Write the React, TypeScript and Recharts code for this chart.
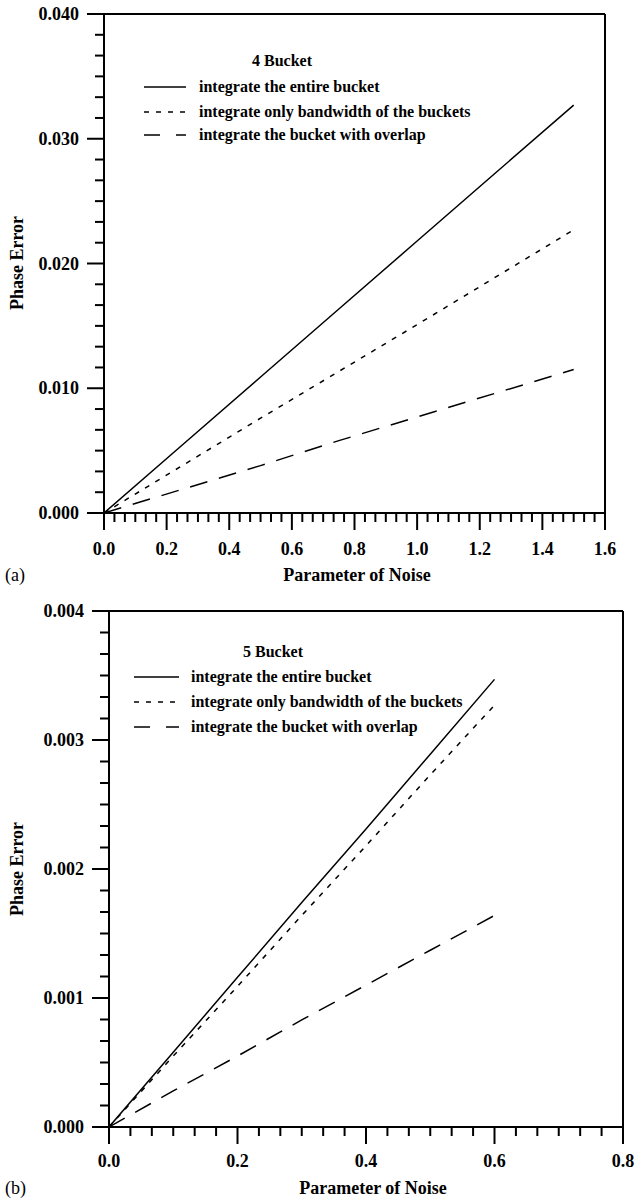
import React from 'react';
import { LineChart, Line, XAxis, YAxis, ReferenceLine, Legend } from 'recharts';

// ---------- Data ----------
// Panel (a): 4 Bucket
const noiseA = [0, 0.25, 0.5, 0.75, 1.0, 1.25, 1.5];
const entireA = [0, 0.00545, 0.0109, 0.01635, 0.0218, 0.02725, 0.0327];
const bandwidthA = [0, 0.0038, 0.0076, 0.01135, 0.0151, 0.0189, 0.0227];
const overlapA = [0, 0.0019, 0.0038, 0.0058, 0.0077, 0.0096, 0.0115];

// Panel (b): 5 Bucket
const noiseB = [0, 0.1, 0.2, 0.3, 0.4, 0.5, 0.6];
const entireB = [0, 0.00058, 0.00116, 0.00174, 0.00231, 0.00289, 0.00347];
const bandwidthB = [0, 0.00055, 0.00109, 0.00164, 0.00218, 0.00273, 0.00327];
const overlapB = [0, 0.00028, 0.00055, 0.00083, 0.0011, 0.00137, 0.00164];

// Tick labels
const xMajorA = [0, 0.2, 0.4, 0.6, 0.8, 1.0, 1.2, 1.4, 1.6];
const yMajorA = [0, 0.01, 0.02, 0.03, 0.04];
const xMajorB = [0, 0.2, 0.4, 0.6, 0.8];
const yMajorB = [0, 0.001, 0.002, 0.003, 0.004];

const seriesNames = [
  'integrate the entire bucket',
  'integrate only bandwidth of the buckets',
  'integrate the bucket with overlap',
];
const titleA = '4 Bucket';
const titleB = '5 Bucket';
const xTitle = 'Parameter of Noise';
const yTitle = 'Phase Error';

// ---------- helpers ----------
const FONT = "'Liberation Serif', 'Times New Roman', serif";
const DASHES = [undefined, '5 7', '18 12'];
const LEGEND_DASHES = [undefined, '5 7', '16 16'];

const withMinors = (majors: number[], sub: number) => {
  const out: number[] = [];
  for (let i = 0; i < majors.length - 1; i++) {
    const a = majors[i];
    const b = majors[i + 1];
    for (let k = 0; k < sub; k++) out.push(Number((a + ((b - a) * k) / sub).toFixed(8)));
  }
  out.push(majors[majors.length - 1]);
  return out;
};

const isMajor = (v: number, majors: number[]) => majors.some((m) => Math.abs(m - v) < 1e-9);

const makeXTick = (majors: number[], labelOffset: number) => (props: any) => {
  const { x, y, payload } = props;
  const major = isMajor(payload.value, majors);
  return (
    <g>
      <line x1={x} x2={x} y1={y} y2={y + (major ? 17 : 9)} stroke="#000" strokeWidth={2} />
      {major && (
        <text
          x={x}
          y={y + labelOffset}
          textAnchor="middle"
          dominantBaseline="central"
          fontFamily={FONT}
          fontWeight="bold"
          fontSize={18}
          fill="#000"
        >
          {payload.value.toFixed(1)}
        </text>
      )}
    </g>
  );
};

const makeYTick = (majors: number[]) => (props: any) => {
  const { x, y, payload } = props;
  const major = isMajor(payload.value, majors);
  return (
    <g>
      <line x1={x} x2={x - (major ? 17 : 9)} y1={y} y2={y} stroke="#000" strokeWidth={2} />
      {major && (
        <text
          x={x - 25}
          y={y}
          textAnchor="end"
          dominantBaseline="central"
          fontFamily={FONT}
          fontWeight="bold"
          fontSize={18}
          fill="#000"
        >
          {payload.value.toFixed(3)}
        </text>
      )}
    </g>
  );
};

type LegendPos = {
  titleX: number;
  titleY: number;
  rowY: number[];
  lineX1: number;
  lineX2: number;
  textX: number;
};

const makeLegend = (title: string, pos: LegendPos) => () => (
  <div style={{ position: 'relative', width: 637, height: 200, fontFamily: FONT, fontWeight: 'bold' }}>
    <div
      style={{
        position: 'absolute',
        left: pos.titleX - 100,
        width: 200,
        top: pos.titleY - 10,
        height: 20,
        lineHeight: '20px',
        textAlign: 'center',
        fontSize: 16,
        whiteSpace: 'nowrap',
      }}
    >
      {title}
    </div>
    {seriesNames.map((name, i) => (
      <React.Fragment key={name}>
        <svg
          style={{ position: 'absolute', left: pos.lineX1, top: pos.rowY[i] - 3 }}
          width={pos.lineX2 - pos.lineX1}
          height={6}
        >
          <line
            x1={0}
            x2={pos.lineX2 - pos.lineX1}
            y1={3}
            y2={3}
            stroke="#000"
            strokeWidth={1.6}
            strokeDasharray={LEGEND_DASHES[i]}
          />
        </svg>
        <div
          style={{
            position: 'absolute',
            left: pos.textX,
            top: pos.rowY[i] - 10,
            height: 20,
            lineHeight: '20px',
            fontSize: 16,
            whiteSpace: 'nowrap',
          }}
        >
          {name}
        </div>
      </React.Fragment>
    ))}
  </div>
);

type PanelProps = {
  top: number;
  height: number;
  margin: { top: number; right: number; bottom: number; left: number };
  yAxisWidth: number;
  xAxisHeight: number;
  noise: number[];
  entire: number[];
  bandwidth: number[];
  overlap: number[];
  xMajor: number[];
  yMajor: number[];
  xLabelOffset: number;
  title: string;
  legendPos: LegendPos;
};

const Panel = (p: PanelProps) => {
  const data = p.noise.map((n, i) => ({
    noise: n,
    entire: p.entire[i],
    bandwidth: p.bandwidth[i],
    overlap: p.overlap[i],
  }));
  const xMax = p.xMajor[p.xMajor.length - 1];
  const yMax = p.yMajor[p.yMajor.length - 1];
  const keys = ['entire', 'bandwidth', 'overlap'];
  return (
    <div style={{ position: 'absolute', left: 0, top: p.top }}>
      <LineChart width={637} height={p.height} data={data} margin={p.margin}>
        <XAxis
          dataKey="noise"
          type="number"
          domain={[0, xMax]}
          ticks={withMinors(p.xMajor, 6)}
          interval={0}
          tickSize={0}
          tickMargin={0}
          tickLine={false}
          height={p.xAxisHeight}
          axisLine={{ stroke: '#000', strokeWidth: 2 }}
          tick={makeXTick(p.xMajor, p.xLabelOffset)}
          allowDataOverflow
        />
        <YAxis
          type="number"
          domain={[0, yMax]}
          ticks={withMinors(p.yMajor, 6)}
          interval={0}
          tickSize={0}
          tickMargin={0}
          tickLine={false}
          width={p.yAxisWidth}
          axisLine={{ stroke: '#000', strokeWidth: 2 }}
          tick={makeYTick(p.yMajor)}
          allowDataOverflow
        />
        <ReferenceLine y={yMax} stroke="#000" strokeWidth={2} />
        <ReferenceLine x={xMax} stroke="#000" strokeWidth={2} />
        <Legend
          layout="vertical"
          align="center"
          verticalAlign="middle"
          content={makeLegend(p.title, p.legendPos)}
          wrapperStyle={{ position: 'absolute', left: 0, top: 0, width: 637, height: 200 }}
        />
        {keys.map((k, i) => (
          <Line
            key={k}
            type="linear"
            dataKey={k}
            name={seriesNames[i]}
            stroke="#000"
            strokeWidth={1.5}
            strokeDasharray={DASHES[i]}
            dot={false}
            activeDot={false}
            isAnimationActive={false}
          />
        ))}
      </LineChart>
    </div>
  );
};

const textStyle: React.CSSProperties = {
  position: 'absolute',
  fontFamily: FONT,
  fontSize: 18,
  color: '#000',
  whiteSpace: 'nowrap',
  lineHeight: '20px',
  height: 20,
};

export default function App() {
  return (
    <div style={{ position: 'absolute', left: 0, top: 0, width: 637, height: 1199, background: '#fff', overflow: 'hidden' }}>
      <Panel
        top={0}
        height={600}
        margin={{ top: 14, right: 32, bottom: 27, left: 0 }}
        yAxisWidth={104}
        xAxisHeight={60}
        noise={noiseA}
        entire={entireA}
        bandwidth={bandwidthA}
        overlap={overlapA}
        xMajor={xMajorA}
        yMajor={yMajorA}
        xLabelOffset={36}
        title={titleA}
        legendPos={{ titleX: 282, titleY: 61, rowY: [87, 112, 135], lineX1: 144, lineX2: 186, textX: 199 }}
      />
      <Panel
        top={600}
        height={599}
        margin={{ top: 11, right: 14, bottom: 22, left: 0 }}
        yAxisWidth={109}
        xAxisHeight={50}
        noise={noiseB}
        entire={entireB}
        bandwidth={bandwidthB}
        overlap={overlapB}
        xMajor={xMajorB}
        yMajor={yMajorB}
        xLabelOffset={34}
        title={titleB}
        legendPos={{ titleX: 273, titleY: 52, rowY: [77, 102, 127], lineX1: 134, lineX2: 179, textX: 191 }}
      />
      {/* axis titles */}
      <div style={{ ...textStyle, fontWeight: 'bold', left: 357 - 150, width: 300, textAlign: 'center', top: 575 - 10 }}>{xTitle}</div>
      <div style={{ ...textStyle, fontWeight: 'bold', left: 373 - 150, width: 300, textAlign: 'center', top: 1188 - 10 }}>{xTitle}</div>
      <div style={{ ...textStyle, left: 5, top: 575 - 10 }}>(a)</div>
      <div style={{ ...textStyle, left: 5, top: 1188 - 10 }}>(b)</div>
      <div
        style={{
          ...textStyle,
          fontWeight: 'bold',
          left: 17 - 75,
          width: 150,
          textAlign: 'center',
          top: 263 - 10,
          transform: 'rotate(-90deg)',
        }}
      >
        {yTitle}
      </div>
      <div
        style={{
          ...textStyle,
          fontWeight: 'bold',
          left: 17 - 75,
          width: 150,
          textAlign: 'center',
          top: 869 - 10,
          transform: 'rotate(-90deg)',
        }}
      >
        {yTitle}
      </div>
    </div>
  );
}
